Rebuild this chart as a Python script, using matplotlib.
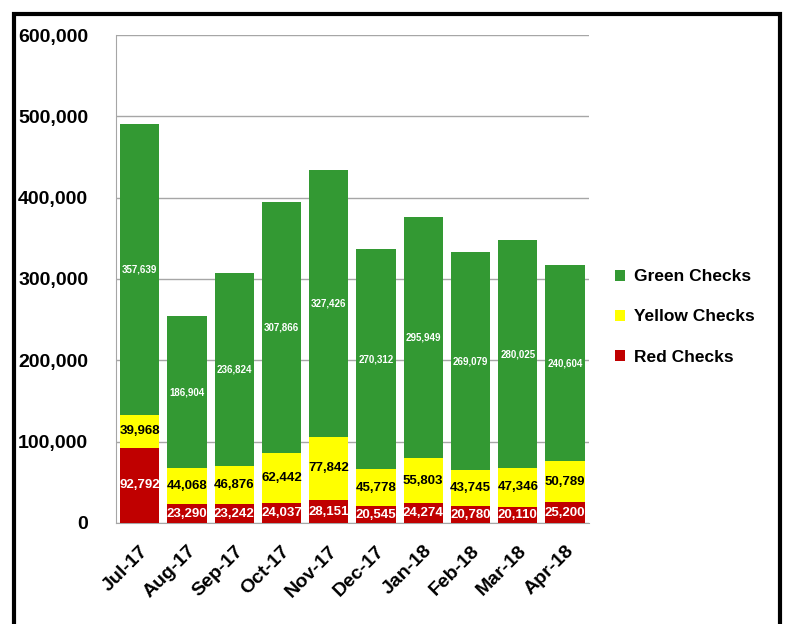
import matplotlib
matplotlib.use("Agg")
import matplotlib.pyplot as plt
import numpy as np
from matplotlib.patches import Rectangle

months = ["Jul-17", "Aug-17", "Sep-17", "Oct-17", "Nov-17",
          "Dec-17", "Jan-18", "Feb-18", "Mar-18", "Apr-18"]
red = np.array([92792, 23290, 23242, 24037, 28151, 20545, 24274, 20780, 20110, 25200])
yellow = np.array([39968, 44068, 46876, 62442, 77842, 45778, 55803, 43745, 47346, 50789])
green = np.array([357639, 186904, 236824, 307866, 327426, 270312, 295949, 269079, 280025, 240604])

plt.rcParams['font.family'] = ['Liberation Sans', 'DejaVu Sans']
plt.rcParams['font.weight'] = 'bold'

fig = plt.figure(figsize=(7.85, 6.24), dpi=100)
ax = fig.add_axes([0.1478, 0.1619, 0.6022, 0.7820])

x = np.arange(len(months))
w = 0.83
b_red = ax.bar(x, red, w, color='#C00000', label='Red Checks', zorder=3)
b_yel = ax.bar(x, yellow, w, bottom=red, color='#FFFF00', label='Yellow Checks', zorder=3)
b_grn = ax.bar(x, green, w, bottom=red + yellow, color='#339933', label='Green Checks', zorder=3)

ax.bar_label(b_red, labels=[f"{v:,}" for v in red], label_type='center',
             color='white', fontsize=9.5, fontweight='bold', zorder=4)
ax.bar_label(b_yel, labels=[f"{v:,}" for v in yellow], label_type='center',
             color='black', fontsize=9.5, fontweight='bold', zorder=4)
ax.bar_label(b_grn, labels=[f"{v:,}" for v in green], label_type='center',
             color='white', fontsize=7, fontweight='bold', zorder=4)

ax.set_ylim(0, 600000)
ax.set_xlim(-0.5, len(months) - 0.5)
ax.set_yticks(np.arange(0, 600001, 100000))
ax.set_yticklabels([f"{v:,}" for v in range(0, 600001, 100000)], fontsize=14, fontweight='bold')
ax.set_xticks(x)
ax.set_xticklabels(months, rotation=45, ha='right', rotation_mode='anchor',
                   fontsize=14, fontweight='bold')
ax.tick_params(axis='y', length=0, pad=20)
ax.tick_params(axis='x', length=0, pad=14)
ax.yaxis.grid(True, color='#A6A6A6', linewidth=1, zorder=0)
for s in ['top', 'right']:
    ax.spines[s].set_visible(False)
for s in ['left', 'bottom']:
    ax.spines[s].set_color('#A6A6A6')

handles, labels = ax.get_legend_handles_labels()
fig.legend(handles[::-1], labels[::-1], loc='center left', bbox_to_anchor=(0.763, 0.492),
           frameon=False, fontsize=12.5, handlelength=0.6, handleheight=0.6,
           labelspacing=1.45, handletextpad=0.5)

# outer frame
fig.patches.append(Rectangle((14 / 785, -0.05), (780 - 14) / 785, 1.05 - 14 / 624,
                             transform=fig.transFigure, fill=False,
                             edgecolor='black', linewidth=3))

fig.savefig("out.png", dpi=100)
